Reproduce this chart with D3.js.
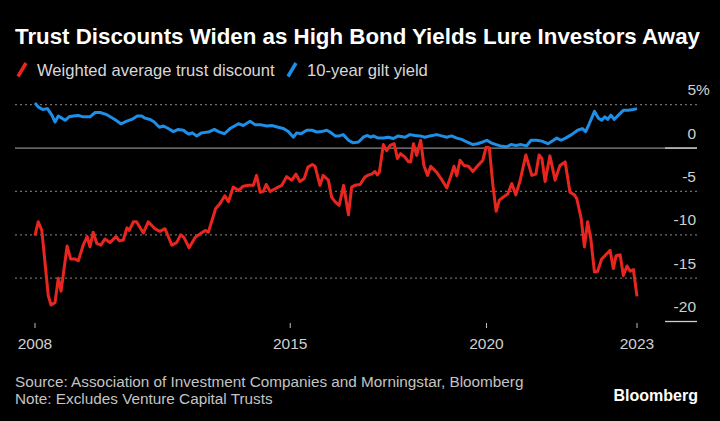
<!DOCTYPE html>
<html>
<head>
<meta charset="utf-8">
<script src="https://cdn.jsdelivr.net/npm/d3@7"></script>
<style>
  html, body { margin: 0; padding: 0; background: #000; }
  svg { display: block; }
  text { font-family: "Liberation Sans", Arial, sans-serif; }
</style>
</head>
<body>
<svg id="chart" width="720" height="421"></svg>
<script>
// ---------- DATA ----------
const title = "Trust Discounts Widen as High Bond Yields Lure Investors Away";
const seriesNames = ["Weighted average trust discount", "10-year gilt yield"];
const sourceText = "Source: Association of Investment Companies and Morningstar, Bloomberg";
const noteText = "Note: Excludes Venture Capital Trusts";

// observation index (0 = start of 2008, 150 = latest, 2023)
const xTickPos = [0, 63.6, 112.5, 150];
const xTickLabels = ["2008", "2015", "2020", "2023"];
const yTicks = [5, 0, -5, -10, -15, -20];

// Weighted average trust discount (%)
const discountPos = [0, 0.8, 1.7, 3.3, 4.0, 5.0, 5.8, 6.5, 8.0, 8.9, 10.0, 10.8, 12.0, 13.0, 13.7, 14.5, 15.4, 16.4, 17.4, 18.7,
  20.2, 21.0, 22.0, 22.9, 23.5, 24.5, 25.3, 27.0, 28.2, 29.9, 31.1, 32.4, 34.1, 35.3, 36.3, 37.1, 38.4, 39.9, 41.1, 42.4,
  43.2, 44.0, 45.0, 46.1, 47.3, 48.2, 49.4, 50.7, 51.9, 53.2, 54.4, 55.2, 56.1, 56.9, 57.6, 58.6, 60.2, 61.5, 62.7, 64.0,
  65.0, 66.0, 67.1, 68.0, 69.1, 69.8, 71.0, 71.8, 73.1, 73.9, 74.8, 75.8, 76.9, 78.1, 78.9, 79.7, 81.0, 82.2, 83.1, 83.9,
  84.7, 85.3, 85.8, 86.8, 87.6, 88.5, 89.5, 90.3, 91.1, 92.2, 93.0, 93.6, 94.3, 95.1, 96.1, 96.9, 97.8, 98.6, 100.1, 101.3,
  102.6, 103.4, 104.4, 105.1, 105.9, 106.9, 108.0, 109.1, 110.2, 111.6, 112.4, 113.2, 114.1, 114.9, 115.7, 116.7, 117.8, 118.8, 119.8, 120.9,
  122.3, 123.8, 124.8, 125.6, 126.3, 127.1, 128.3, 129.6, 130.8, 132.1, 133.3, 134.4, 135.0, 136.1, 136.9, 137.7, 138.5, 139.4, 140.2, 141.2,
  143.3, 144.1, 144.8, 145.8, 146.6, 147.5, 148.3, 149.1, 150];
const discountVal = [-10.1, -8.5, -9.5, -17, -18.1, -17.8, -15, -16.5, -11.3, -12.8, -12.8, -13, -11.2, -10.2, -11.4, -9.7, -11, -11.2, -10.5, -10.9,
  -10.2, -10.7, -10.6, -9.2, -9.5, -8.5, -8.5, -9.8, -8.5, -9.3, -9.6, -9.3, -11.2, -10.9, -10, -10.3, -11.5, -10.3, -9.9, -9.5,
  -9.7, -8.5, -7, -6.4, -5.5, -6.2, -4.5, -4.9, -4.4, -4.3, -4.3, -3.15, -5.1, -5, -4.2, -5, -4.6, -4.3, -3.3, -3.7,
  -3, -3.85, -3.5, -2.2, -1.9, -2.1, -4.3, -3.15, -3.7, -5.65, -6.2, -6.6, -4.3, -7.7, -4.5, -4.3, -4.2, -3.35, -3.1, -3,
  -2.7, -3.1, -2.8, 0.4, -0.3, 0.3, 0.5, -1.2, -0.65, -1.05, -1.55, -1.6, 0.5, -0.85, 0.9, -2, -3.15, -2.1, -2.8, -3.6,
  -4.6, -3.55, -2.1, -3.2, -1.4, -2, -2.1, -2.7, -2.1, -1.4, 0.1, 0.05, -4.3, -7.3, -6, -5.65, -5.3, -4.1, -5.4, -3.7,
  -0.8, -3.15, -3, -0.8, -1.2, -3.85, -0.9, -3.7, -2, -1.6, -5.1, -5.4, -5.85, -8.15, -11.4, -8.5, -10.5, -14.3, -14.2, -12.8,
  -11.8, -13.9, -12.4, -12.3, -14.7, -13.6, -14.2, -14, -17.1];

// 10-year gilt yield (%)
const giltPos = [0, 0.8, 1.9, 3.1, 4.2, 5.0, 5.8, 6.7, 7.5, 8.5, 9.5, 10.8, 12.0, 13.7, 15.0, 16.2, 17.9, 19.9, 21.4, 22.9,
  24.1, 25.5, 26.6, 27.4, 28.7, 29.7, 31.0, 32.0, 33.2, 34.5, 35.7, 37.0, 37.8, 38.4, 39.2, 40.3, 41.5, 43.2, 44.7, 45.7,
  47.2, 48.6, 49.7, 50.7, 51.9, 53.6, 54.8, 56.1, 57.7, 59.0, 60.6, 61.9, 63.1, 64.4, 65.2, 66.3, 67.7, 69.0, 70.2, 71.4,
  72.7, 73.5, 74.8, 75.8, 76.8, 78.1, 79.3, 80.6, 81.8, 82.7, 83.7, 84.3, 85.5, 86.8, 88.0, 89.3, 90.5, 92.2, 93.4, 94.7,
  95.9, 97.2, 98.4, 100.1, 101.3, 102.6, 103.8, 105.1, 106.3, 107.6, 109.1, 110.2, 111.6, 112.6, 113.6, 114.9, 115.9, 117.5, 118.6, 119.8,
  121.1, 122.5, 123.6, 125.0, 126.3, 127.8, 129.2, 130.0, 131.1, 132.2, 133.7, 135.2, 136.4, 137.2, 138.1, 138.7, 139.4, 140.4, 141.2, 142.0,
  142.7, 143.5, 144.3, 145.5, 146.6, 147.8, 149.1, 150];
const giltVal = [5.2, 4.75, 4.45, 4.55, 3.8, 3.0, 3.7, 3.45, 3.2, 3.6, 3.7, 3.75, 3.6, 3.6, 4.1, 4.1, 3.85, 3.3, 2.8, 3.1,
  3.3, 3.7, 3.7, 3.45, 3.3, 3.0, 2.4, 2.55, 2.25, 1.9, 2.15, 2.05, 1.75, 1.6, 1.75, 1.4, 1.75, 1.85, 2.15, 1.9,
  1.65, 2.25, 2.55, 2.8, 2.6, 3.1, 2.7, 2.7, 2.55, 2.6, 2.4, 2.25, 1.9, 1.25, 1.75, 1.65, 2.05, 2.05, 1.85, 1.9,
  2.05, 1.85, 1.4, 1.4, 1.55, 0.9, 0.6, 0.7, 1.25, 1.45, 1.25, 1.4, 1.15, 1.15, 1.25, 1.1, 1.4, 1.25, 1.55, 1.45,
  1.4, 1.25, 1.4, 1.55, 1.4, 1.25, 1.4, 1.15, 1.0, 0.7, 0.4, 0.5, 0.7, 0.9, 0.6, 0.4, 0.25, 0.15, 0.4, 0.3,
  0.4, 0.25, 0.9, 0.9, 0.8, 0.5, 0.9, 1.15, 0.9, 1.15, 1.55, 2.05, 2.25, 1.9, 2.8, 3.45, 4.25, 3.45, 3.2, 3.6,
  3.3, 3.8, 3.3, 3.85, 4.35, 4.35, 4.45, 4.55];

// ---------- CHART ----------
const svg = d3.select("#chart");
const W = 720, H = 421;
svg.append("rect").attr("width", W).attr("height", H).attr("fill", "#000");

const colors = ["#e8261f", "#1f8ee6"];

const x = d3.scaleLinear().domain([0, 150]).range([35, 637]);
const y = d3.scaleLinear().domain([-20, 5]).range([321.5, 104.7]);
const gridLeft = 15, gridRight = 697;

// Title
svg.append("text").attr("x", 15).attr("y", 44)
  .attr("fill", "#fff").attr("font-size", 22.3).attr("font-weight", "bold")
  .text(title);

// Legend
const legendItems = [
  { name: seriesNames[0], color: colors[0], x: 17 },
  { name: seriesNames[1], color: colors[1], x: 287 }
];
legendItems.forEach(d => {
  svg.append("line").attr("x1", d.x + 1).attr("y1", 76.5).attr("x2", d.x + 9).attr("y2", 63)
    .attr("stroke", d.color).attr("stroke-width", 3.5);
  svg.append("text").attr("x", d.x + 20).attr("y", 76)
    .attr("fill", "#d8d8d8").attr("font-size", 16.6)
    .text(d.name);
});

// Gridlines
const grid = svg.append("g");
yTicks.forEach(v => {
  if (v === 0) {
    grid.append("line").attr("x1", gridLeft).attr("x2", gridRight)
      .attr("y1", y(v)).attr("y2", y(v)).attr("stroke", "#8a8a8a").attr("stroke-width", 1.3);
    grid.append("line").attr("x1", 665).attr("x2", gridRight)
      .attr("y1", y(v)).attr("y2", y(v)).attr("stroke", "#cfcfcf").attr("stroke-width", 1.3);
  } else if (v === -20) {
    grid.append("line").attr("x1", 665).attr("x2", gridRight)
      .attr("y1", y(v)).attr("y2", y(v)).attr("stroke", "#cfcfcf").attr("stroke-width", 1.3);
  } else {
    grid.append("line").attr("x1", gridLeft).attr("x2", gridRight)
      .attr("y1", y(v)).attr("y2", y(v)).attr("stroke", "#6e6e6e").attr("stroke-width", 1.2)
      .attr("stroke-dasharray", "2,3");
  }
});

// Right axis labels
const yLab = svg.append("g").attr("fill", "#d0d0d0").attr("font-size", 15.5);
yTicks.forEach(v => {
  yLab.append("text").attr("x", 696).attr("y", y(v) - 9.5)
    .attr("text-anchor", "end").text(v < 0 ? "-" + Math.abs(v) : String(v));
  if (v === d3.max(yTicks)) {
    yLab.append("text").attr("x", 696).attr("y", y(v) - 9.5).text("%");
  }
});

// X axis ticks and labels
const xa = svg.append("g");
xTickPos.forEach((p, i) => {
  xa.append("line").attr("x1", x(p)).attr("x2", x(p)).attr("y1", 323).attr("y2", 328)
    .attr("stroke", "#bdbdbd").attr("stroke-width", 1);
  xa.append("text").attr("x", x(p)).attr("y", 349).attr("text-anchor", "middle")
    .attr("fill", "#d0d0d0").attr("font-size", 15.5).text(xTickLabels[i]);
});

// Lines
const line = d3.line().x(d => x(d[0])).y(d => y(d[1])).curve(d3.curveLinear);
const giltData = d3.zip(giltPos, giltVal);
const discData = d3.zip(discountPos, discountVal);

svg.append("path").datum(giltData).attr("d", line)
  .attr("fill", "none").attr("stroke", colors[1]).attr("stroke-width", 3)
  .attr("stroke-linejoin", "round");
svg.append("path").datum(discData).attr("d", line)
  .attr("fill", "none").attr("stroke", colors[0]).attr("stroke-width", 3)
  .attr("stroke-linejoin", "round");

// Footer
svg.append("text").attr("x", 15).attr("y", 387).attr("fill", "#c4c4c4").attr("font-size", 15.3)
  .text(sourceText);
svg.append("text").attr("x", 15).attr("y", 404).attr("fill", "#c4c4c4").attr("font-size", 15.3)
  .text(noteText);
svg.append("text").attr("x", 698).attr("y", 401).attr("text-anchor", "end")
  .attr("fill", "#fff").attr("font-size", 16).attr("font-weight", "bold")
  .text("Bloomberg");
</script>
</body>
</html>
